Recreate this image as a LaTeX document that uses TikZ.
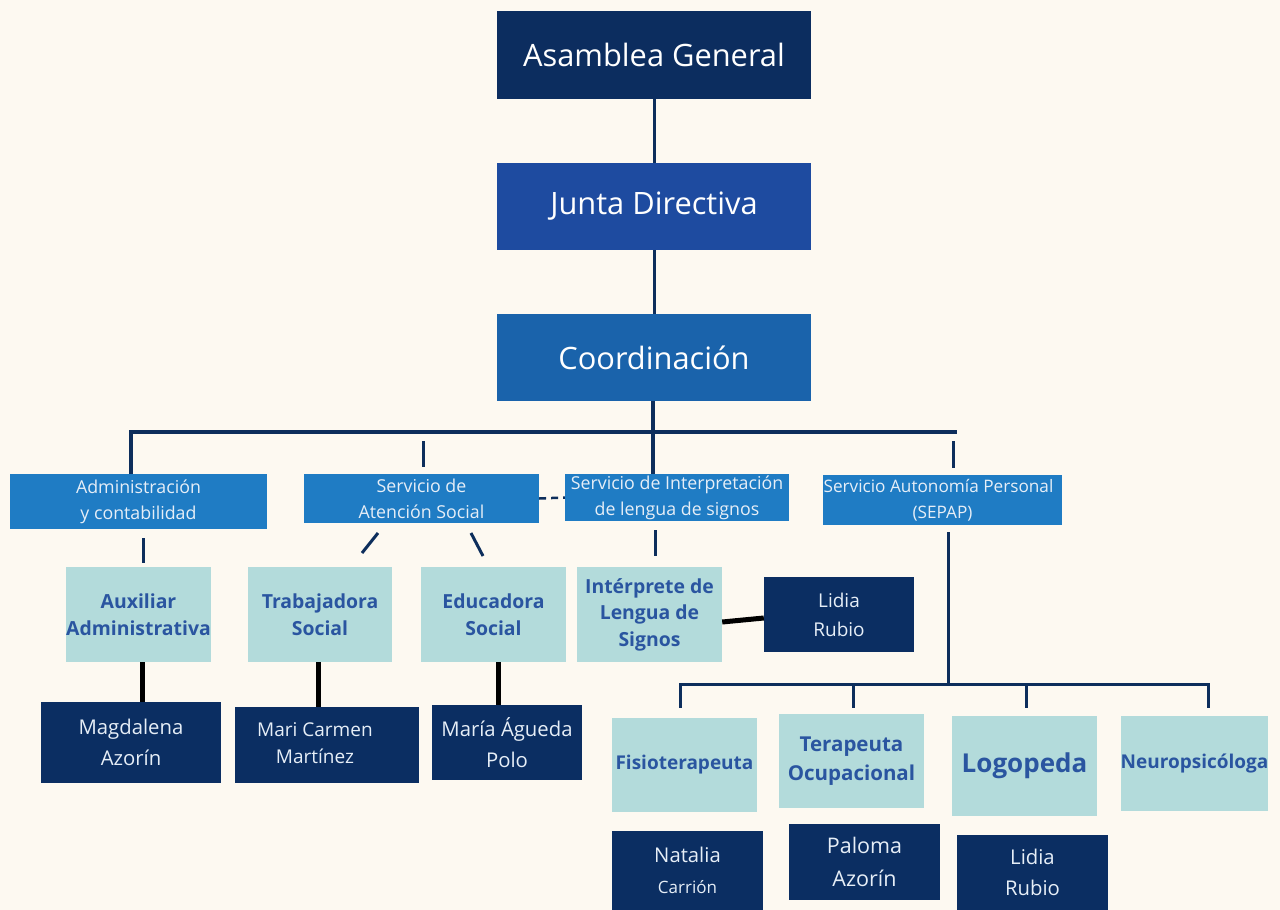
\documentclass[tikz,border=0pt]{standalone}
\usepackage{fontspec}
\setmainfont{Open Sans}
\definecolor{bgc}{HTML}{FDF9F1}
\definecolor{navy}{HTML}{0C2D5F}
\definecolor{junta}{HTML}{1E4BA0}
\definecolor{coordc}{HTML}{1A63AB}
\definecolor{midb}{HTML}{1F7CC4}
\definecolor{light}{HTML}{B3DBDB}
\definecolor{darkb}{HTML}{0B2E62}
\definecolor{linec}{HTML}{0D2E5C}
\definecolor{ltext}{HTML}{2A55A0}
\definecolor{wtext}{HTML}{E6EEF7}
\tikzset{
  topbox/.style={rectangle, inner sep=0pt, align=center, text=white, font=\fontsize{30.8}{36}\selectfont},
  secbox/.style={rectangle, inner sep=0pt, fill=midb, align=center, text=wtext, font=\fontsize{17.8}{26}\selectfont},
  rolebox/.style={rectangle, inner sep=0pt, fill=light, align=center, text=ltext, font=\bfseries\fontsize{19.4}{27}\selectfont},
  namebox/.style={rectangle, inner sep=0pt, fill=darkb, align=center, text=wtext, font=\fontsize{20.3}{31}\selectfont},
  navyline/.style={draw=linec, line width=3.5pt},
  blkline/.style={draw=black, line width=5pt},
}
\begin{document}
\begin{tikzpicture}[x=1pt, y=-1pt]
\fill[bgc] (0,0) rectangle (1280,910);
% top boxes
\node[topbox, fill=navy, minimum width=314pt, minimum height=88pt] (asm) at (654,55) {Asamblea General};
\node[topbox, fill=junta, minimum width=314pt, minimum height=87pt] (junta) at (654,206.5) {Junta Directiva};
\node[topbox, fill=coordc, minimum width=314pt, minimum height=87pt] (coord) at (654,357.5) {Coordinación};
% second row
\node[secbox, minimum width=257pt, minimum height=55pt] (admin) at (138.5,501.5) {Administración\\y contabilidad};
\node[secbox, minimum width=235pt, minimum height=49pt] (social) at (421.5,498.5) {Servicio de\\Atención Social};
\node[secbox, minimum width=224pt, minimum height=47pt] (interp) at (677,497.5) {Servicio de Interpretación\\de lengua de signos};
\node[secbox, minimum width=239pt, minimum height=50pt, font=\fontsize{17.2}{26}\selectfont] (sepap) at (942.5,500) {\hspace*{-8pt}Servicio Autonomía Personal\\(SEPAP)};
% role boxes
\node[rolebox, minimum width=145pt, minimum height=95pt] (aux) at (138.5,614.5) {Auxiliar\\Administrativa};
\node[rolebox, minimum width=144pt, minimum height=95pt] (trab) at (320,614.5) {Trabajadora\\Social};
\node[rolebox, minimum width=145pt, minimum height=95pt] (educ) at (493.5,614.5) {Educadora\\Social};
\node[rolebox, minimum width=145pt, minimum height=95pt, font=\bfseries\fontsize{19.4}{26.5}\selectfont] (inter) at (649.5,614.5) {Intérprete de\\Lengua de\\Signos};
\node[rolebox, minimum width=145pt, minimum height=94pt, font=\bfseries\fontsize{19}{24}\selectfont] (fisio) at (684.5,765) {Fisioterapeuta};
\node[rolebox, minimum width=145pt, minimum height=94pt, font=\bfseries\fontsize{20.5}{29}\selectfont] (terap) at (851.5,761) {Terapeuta\\Ocupacional};
\node[rolebox, minimum width=145pt, minimum height=100pt, font=\bfseries\fontsize{26}{30}\selectfont] (logo) at (1024.5,766) {Logopeda};
\node[rolebox, minimum width=145pt, minimum height=95pt, font=\bfseries\fontsize{19}{24}\selectfont] (neuro) at (1194.5,763.5) {Neuropsicóloga};
% name boxes
\node[namebox, minimum width=180pt, minimum height=81pt] (magda) at (131,742.5) {Magdalena\\Azorín};
\node[namebox, minimum width=184pt, minimum height=76pt, font=\fontsize{19}{27}\selectfont] (mari) at (327,745) {\raisebox{5pt}{\hspace*{-24pt}\begin{tabular}{@{}c@{}}Mari Carmen\\[0pt]Martínez\end{tabular}}};
\node[namebox, minimum width=150pt, minimum height=75pt] (maria) at (507,742.5) {María Águeda\\Polo};
\node[namebox, minimum width=150pt, minimum height=75pt, font=\fontsize{19}{29}\selectfont] (lidiaA) at (839,614.5) {Lidia\\Rubio};
\node[namebox, minimum width=151pt, minimum height=79pt] (natalia) at (687.5,870.5) {Natalia\\{\fontsize{17}{29}\selectfont Carrión}};
\node[namebox, minimum width=151pt, minimum height=76pt, font=\fontsize{21.5}{33}\selectfont] (paloma) at (864.5,862) {Paloma\\Azorín};
\node[namebox, minimum width=151pt, minimum height=75pt] (lidiaB) at (1032.5,872.5) {Lidia\\Rubio};
% top connectors
\draw[navyline, line width=3pt] (asm.south) -- (junta.north);
\draw[navyline, line width=3pt] (junta.south) -- (coord.north);
\coordinate (busL) at (131,432);
\coordinate (busR) at (955,432);
\draw[navyline] ([xshift=-1pt]coord.south) -- ([xshift=-1pt]coord.south |- interp.north);
\draw[navyline, line cap=rect] (busL) -- (busR);
\draw[navyline] (busL) -- (busL |- admin.north);
\coordinate (tsA) at (423,441);
\coordinate (tsB) at (423,467);
\draw[navyline, line width=3pt] (tsA) -- (tsB);
\coordinate (tpA) at (953,441);
\coordinate (tpB) at (953,468);
\draw[navyline, line width=3pt] (tpA) -- (tpB);
\draw[navyline, line width=2.5pt, dashed, dash pattern=on 7pt off 5pt] (social.east) -- (interp.west);
% second-row drops
\coordinate (adA) at (143,538);
\coordinate (adB) at (143,563);
\draw[navyline, line width=3pt] (adA) -- (adB);
\coordinate (sdA) at (378,533);
\coordinate (sdB) at (362,553);
\draw[navyline, line width=3pt] (sdA) -- (sdB);
\coordinate (seA) at (471,533);
\coordinate (seB) at (483,556);
\draw[navyline, line width=3pt] (seA) -- (seB);
\coordinate (idA) at (655,530);
\coordinate (idB) at (655,556);
\draw[navyline, line width=3pt] (idA) -- (idB);
\coordinate (spA) at (948,532);
\coordinate (spB) at (948,684);
\draw[navyline, line width=3pt] (spA) -- (spB);
\coordinate (lbL) at (680,684);
\coordinate (lbR) at (1208,684);
\draw[navyline, line width=3pt, line cap=rect] (lbL) -- (lbR);
\coordinate (d2) at (853,684);
\coordinate (d3) at (1026,684);
\draw[navyline, line width=3pt] (lbL) -- ++(0,24);
\draw[navyline, line width=3pt] (d2) -- ++(0,24);
\draw[navyline, line width=3pt] (d3) -- ++(0,24);
\draw[navyline, line width=3pt] (lbR) -- ++(0,24);
% black connectors
\draw[blkline] ([xshift=3.5pt]aux.south) -- ([xshift=3.5pt]aux.south |- magda.north);
\draw[blkline] ([xshift=-2pt]trab.south) -- ([xshift=-2pt]trab.south |- mari.north);
\draw[blkline] ([xshift=4.5pt]educ.south) -- ([xshift=4.5pt]educ.south |- maria.north);
\draw[blkline] ([yshift=-7.5pt]inter.east) -- ([yshift=-3.5pt]lidiaA.west);
\end{tikzpicture}
\end{document}
